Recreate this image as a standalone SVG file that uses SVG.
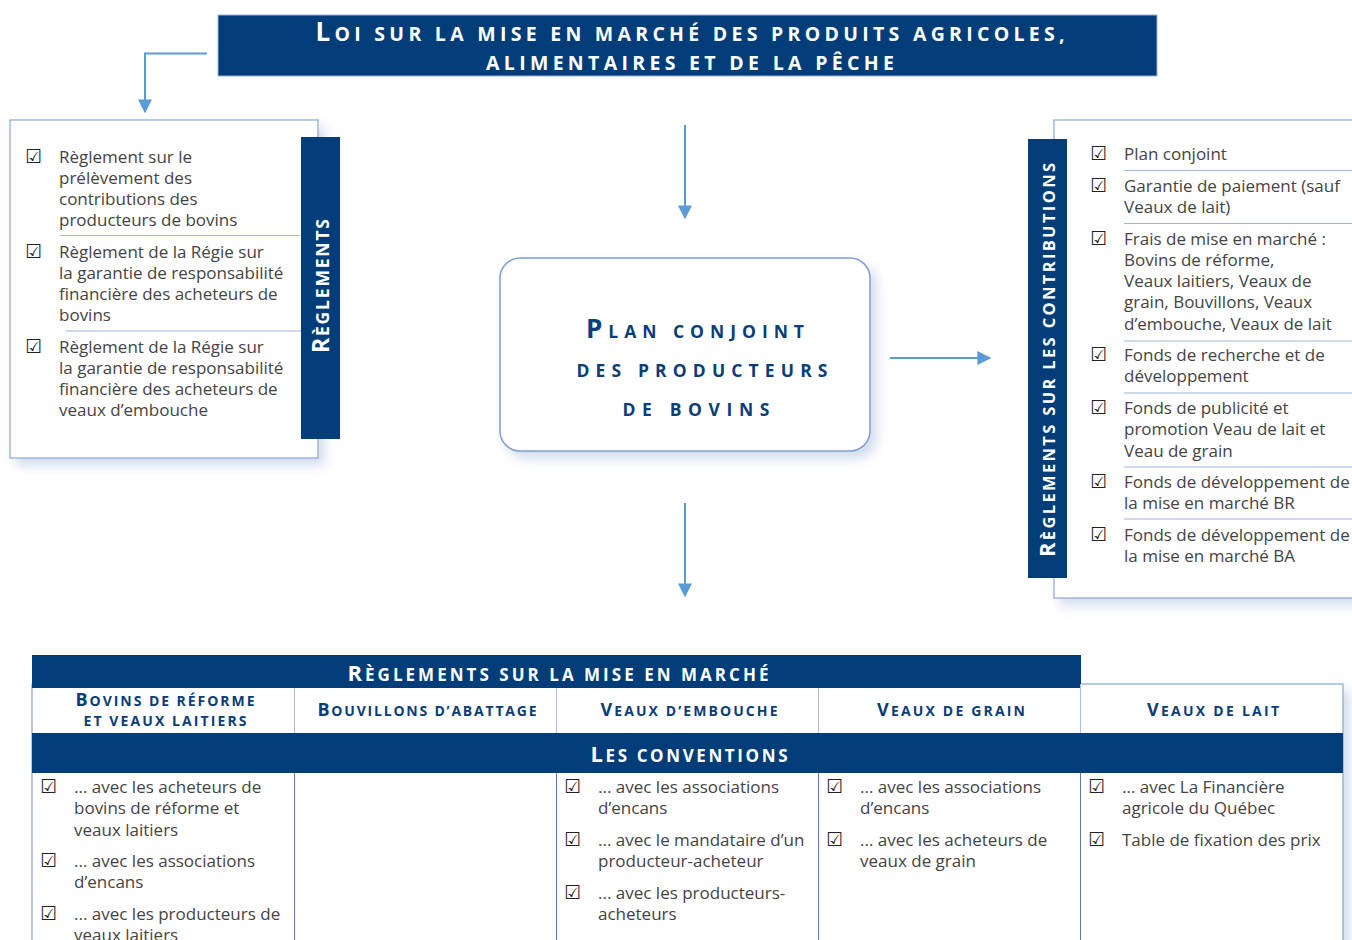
<svg xmlns="http://www.w3.org/2000/svg" width="1352" height="940" viewBox="0 0 1352 940">
<defs>
<filter id="sh" x="-10%" y="-10%" width="130%" height="130%">
<feDropShadow dx="6" dy="7" stdDeviation="6" flood-color="#aebfe0" flood-opacity="0.55"/>
</filter>
<marker id="ah2" viewBox="0 0 10 10" refX="9" refY="5" markerWidth="7" markerHeight="7" orient="auto">
<path d="M0,0 L10,5 L0,10 z" fill="#5b9bd5"/>
</marker>
</defs>
<style>
.box{fill:#fff;stroke:#8ca6d3;stroke-width:1.2}
.dark{fill:#003d79}
.body{font-family:"Open Sans","Liberation Sans",sans-serif;font-size:17px;font-weight:400;fill:#444}
.chk{font-family:"DejaVu Sans",sans-serif;font-size:19px;fill:#222}
.wt{font-family:"Open Sans","Liberation Sans",sans-serif;font-weight:700;fill:#fff}
.bt{font-family:"Open Sans","Liberation Sans",sans-serif;font-weight:700;fill:#0b3d78}
.sep{stroke:#9fb6dc;stroke-width:1}
.div{stroke:#5a7db5;stroke-width:1}
.hdiv{stroke:#a9bddf;stroke-width:1}
.conn{stroke:#5b9bd5;stroke-width:2;fill:none}
</style>
<rect width="1352" height="940" fill="#fff"/>

<g id="connectors">
<path class="conn" d="M207,53.5 H145 V112" marker-end="url(#ah2)"/>
<path class="conn" d="M685,125 V218" marker-end="url(#ah2)"/>
<path class="conn" d="M890,358 H990" marker-end="url(#ah2)"/>
<path class="conn" d="M685,503 V596" marker-end="url(#ah2)"/>
</g>

<g id="loi">
<rect x="218" y="15" width="939" height="61" class="dark" stroke="#9db3d9" stroke-width="1"/>
<text class="wt" x="690" y="41" text-anchor="middle" textLength="749" lengthAdjust="spacing"><tspan font-size="26">L</tspan><tspan font-size="19.5">OI SUR LA MISE EN MARCHÉ DES PRODUITS AGRICOLES,</tspan></text>
<text class="wt" x="690" y="70" text-anchor="middle" font-size="19.5" textLength="408" lengthAdjust="spacing">ALIMENTAIRES ET DE LA PÊCHE</text>
</g>

<g id="reglements">
<rect x="10" y="120" width="308" height="338" class="box" filter="url(#sh)"/>
<line class="sep" x1="60" y1="235.5" x2="300" y2="235.5"/>
<line class="sep" x1="66" y1="331" x2="302" y2="331"/>
<text class="chk" x="25" y="163">☑</text>
<text class="body" x="59" y="163">Règlement sur le</text>
<text class="body" x="59" y="184">prélèvement des</text>
<text class="body" x="59" y="205">contributions des</text>
<text class="body" x="59" y="226">producteurs de bovins</text>
<text class="chk" x="25" y="258">☑</text>
<text class="body" x="59" y="258">Règlement de la Régie sur</text>
<text class="body" x="59" y="279">la garantie de responsabilité</text>
<text class="body" x="59" y="300">financière des acheteurs de</text>
<text class="body" x="59" y="321">bovins</text>
<text class="chk" x="25" y="353">☑</text>
<text class="body" x="59" y="353">Règlement de la Régie sur</text>
<text class="body" x="59" y="374">la garantie de responsabilité</text>
<text class="body" x="59" y="395">financière des acheteurs de</text>
<text class="body" x="59" y="416">veaux d’embouche</text>
<rect x="301" y="137" width="39" height="302" class="dark"/>
<text class="wt" transform="translate(329,286) rotate(-90)" text-anchor="middle" textLength="134" lengthAdjust="spacing"><tspan font-size="23">R</tspan><tspan font-size="17.5">ÈGLEMENTS</tspan></text>
</g>

<g id="plan">
<rect x="500" y="258" width="370" height="193" rx="20" ry="20" fill="#fff" stroke="#7f9fd0" stroke-width="1.5" filter="url(#sh)"/>
<text class="bt" x="695" y="338" text-anchor="middle" textLength="218" lengthAdjust="spacing"><tspan font-size="26">P</tspan><tspan font-size="17.5">LAN CONJOINT</tspan></text>
<text class="bt" x="702" y="377" text-anchor="middle" font-size="17.5" textLength="251" lengthAdjust="spacing">DES PRODUCTEURS</text>
<text class="bt" x="696" y="416" text-anchor="middle" font-size="17.5" textLength="147" lengthAdjust="spacing">DE BOVINS</text>
</g>

<g id="contributions">
<rect x="1054" y="120" width="310" height="478" class="box" filter="url(#sh)"/>
<line class="sep" x1="1124" y1="170.5" x2="1352" y2="170.5"/>
<line class="sep" x1="1124" y1="223.5" x2="1352" y2="223.5"/>
<line class="sep" x1="1124" y1="341" x2="1352" y2="341"/>
<line class="sep" x1="1124" y1="393" x2="1352" y2="393"/>
<line class="sep" x1="1124" y1="467" x2="1352" y2="467"/>
<line class="sep" x1="1124" y1="519" x2="1352" y2="519"/>
<text class="chk" x="1090" y="160">☑</text>
<text class="body" x="1124" y="160">Plan conjoint</text>
<text class="chk" x="1090" y="192">☑</text>
<text class="body" x="1124" y="192">Garantie de paiement (sauf</text>
<text class="body" x="1124" y="213">Veaux de lait)</text>
<text class="chk" x="1090" y="245">☑</text>
<text class="body" x="1124" y="245">Frais de mise en marché :</text>
<text class="body" x="1124" y="266">Bovins de réforme,</text>
<text class="body" x="1124" y="287">Veaux laitiers, Veaux de</text>
<text class="body" x="1124" y="308">grain, Bouvillons, Veaux</text>
<text class="body" x="1124" y="330">d’embouche, Veaux de lait</text>
<text class="chk" x="1090" y="361">☑</text>
<text class="body" x="1124" y="361">Fonds de recherche et de</text>
<text class="body" x="1124" y="382">développement</text>
<text class="chk" x="1090" y="414">☑</text>
<text class="body" x="1124" y="414">Fonds de publicité et</text>
<text class="body" x="1124" y="435">promotion Veau de lait et</text>
<text class="body" x="1124" y="457">Veau de grain</text>
<text class="chk" x="1090" y="488">☑</text>
<text class="body" x="1124" y="488">Fonds de développement de</text>
<text class="body" x="1124" y="509">la mise en marché BR</text>
<text class="chk" x="1090" y="541">☑</text>
<text class="body" x="1124" y="541">Fonds de développement de</text>
<text class="body" x="1124" y="562">la mise en marché BA</text>
<rect x="1028" y="139" width="39" height="439" class="dark"/>
<text class="wt" transform="translate(1055,360) rotate(-90)" text-anchor="middle" textLength="394" lengthAdjust="spacing"><tspan font-size="22">R</tspan><tspan font-size="16.5">ÈGLEMENTS SUR LES CONTRIBUTIONS</tspan></text>
</g>

<g id="mise-en-marche">
<rect x="32" y="684" width="1311" height="280" class="box" filter="url(#sh)"/>
<rect x="32" y="655" width="1049" height="33" class="dark"/>
<text class="wt" x="558" y="681" text-anchor="middle" textLength="421" lengthAdjust="spacing"><tspan font-size="22">R</tspan><tspan font-size="17">ÈGLEMENTS SUR LA MISE EN MARCHÉ</tspan></text>
<line class="hdiv" x1="294.5" y1="688" x2="294.5" y2="733"/>
<line class="hdiv" x1="556.5" y1="688" x2="556.5" y2="733"/>
<line class="hdiv" x1="818.5" y1="688" x2="818.5" y2="733"/>
<line class="hdiv" x1="1080.5" y1="684" x2="1080.5" y2="733"/>
<text class="bt" x="165" y="706" text-anchor="middle" textLength="179" lengthAdjust="spacing"><tspan font-size="18">B</tspan><tspan font-size="14">OVINS DE RÉFORME</tspan></text>
<text class="bt" x="165" y="726" text-anchor="middle" font-size="14" textLength="163" lengthAdjust="spacing">ET VEAUX LAITIERS</text>
<text class="bt" x="427" y="716" text-anchor="middle" textLength="219" lengthAdjust="spacing"><tspan font-size="18">B</tspan><tspan font-size="14">OUVILLONS D’ABATTAGE</tspan></text>
<text class="bt" x="689" y="716" text-anchor="middle" textLength="177" lengthAdjust="spacing"><tspan font-size="18">V</tspan><tspan font-size="14">EAUX D’EMBOUCHE</tspan></text>
<text class="bt" x="951" y="716" text-anchor="middle" textLength="148" lengthAdjust="spacing"><tspan font-size="18">V</tspan><tspan font-size="14">EAUX DE GRAIN</tspan></text>
<text class="bt" x="1213" y="716" text-anchor="middle" textLength="132" lengthAdjust="spacing"><tspan font-size="18">V</tspan><tspan font-size="14">EAUX DE LAIT</tspan></text>
<rect x="32" y="733" width="1311" height="40" class="dark"/>
<text class="wt" x="689" y="762" text-anchor="middle" textLength="197" lengthAdjust="spacing"><tspan font-size="22">L</tspan><tspan font-size="17">ES CONVENTIONS</tspan></text>
<line class="div" x1="294.5" y1="773" x2="294.5" y2="940"/>
<line class="div" x1="556.5" y1="773" x2="556.5" y2="940"/>
<line class="div" x1="818.5" y1="773" x2="818.5" y2="940"/>
<line class="div" x1="1080.5" y1="773" x2="1080.5" y2="940"/>

<text class="chk" x="40" y="793">☑</text>
<text class="body" x="74" y="793">... avec les acheteurs de</text>
<text class="body" x="74" y="814">bovins de réforme et</text>
<text class="body" x="74" y="836">veaux laitiers</text>
<text class="chk" x="40" y="867">☑</text>
<text class="body" x="74" y="867">... avec les associations</text>
<text class="body" x="74" y="888">d’encans</text>
<text class="chk" x="40" y="920">☑</text>
<text class="body" x="74" y="920">... avec les producteurs de</text>
<text class="body" x="74" y="941">veaux laitiers</text>

<text class="chk" x="564" y="793">☑</text>
<text class="body" x="598" y="793">... avec les associations</text>
<text class="body" x="598" y="814">d’encans</text>
<text class="chk" x="564" y="846">☑</text>
<text class="body" x="598" y="846">... avec le mandataire d’un</text>
<text class="body" x="598" y="867">producteur-acheteur</text>
<text class="chk" x="564" y="899">☑</text>
<text class="body" x="598" y="899">... avec les producteurs-</text>
<text class="body" x="598" y="920">acheteurs</text>

<text class="chk" x="826" y="793">☑</text>
<text class="body" x="860" y="793">... avec les associations</text>
<text class="body" x="860" y="814">d’encans</text>
<text class="chk" x="826" y="846">☑</text>
<text class="body" x="860" y="846">... avec les acheteurs de</text>
<text class="body" x="860" y="867">veaux de grain</text>

<text class="chk" x="1088" y="793">☑</text>
<text class="body" x="1122" y="793">... avec La Financière</text>
<text class="body" x="1122" y="814">agricole du Québec</text>
<text class="chk" x="1088" y="846">☑</text>
<text class="body" x="1122" y="846">Table de fixation des prix</text>
</g>
</svg>
